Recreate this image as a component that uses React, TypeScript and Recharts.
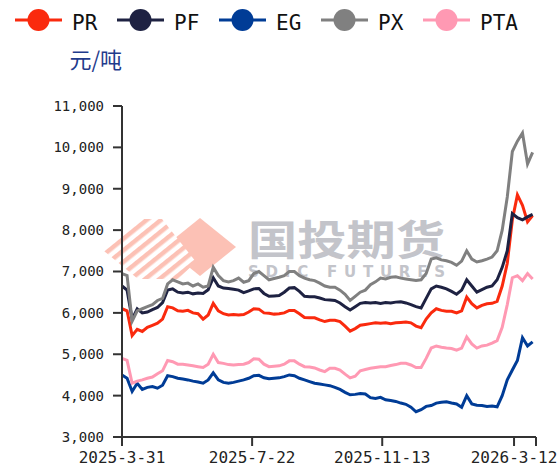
import React from 'react';
import { LineChart, Line, XAxis, YAxis } from 'recharts';

// one point every 3 trading days, from 2025-3-31
const PR = [
  6100, 6050, 5450, 5600, 5550, 5650, 5700, 5750, 5850, 6150,
  6120, 6050, 6040, 6060, 6000, 5980, 5850, 5950, 6230, 6050,
  5980, 5950, 5960, 5950, 5960, 6020, 6100, 6090, 6000, 5990,
  5970, 5980, 6000, 6060, 6060, 5980, 5890, 5880, 5880, 5830,
  5790, 5820, 5820, 5790, 5680, 5560, 5620, 5700, 5720, 5740,
  5760, 5750, 5760, 5740, 5760, 5770, 5780, 5760, 5680, 5640,
  5850, 6000, 6100, 6060, 6040, 6040, 6000, 6050, 6380, 6220,
  6120, 6180, 6220, 6230, 6280, 6650, 7200, 8250, 8850, 8600,
  8200, 8350,
];
const PF = [
  6650, 6550, 5850, 6100, 6000, 6020, 6080, 6130, 6250, 6550,
  6580, 6500, 6480, 6500, 6460, 6480, 6470, 6560, 6850, 6650,
  6600, 6590, 6570, 6550, 6490, 6530, 6580, 6590, 6470, 6400,
  6410, 6420, 6500, 6600, 6610, 6520, 6400, 6390, 6390, 6360,
  6320, 6310, 6300, 6240, 6150, 6070, 6150, 6230, 6250, 6240,
  6250, 6230, 6250, 6240, 6260, 6270, 6240, 6200, 6150, 6120,
  6350, 6580, 6650, 6620, 6580, 6520, 6450, 6550, 6800, 6650,
  6500, 6560, 6620, 6650, 6800, 7100, 7500, 8400, 8300, 8250,
  8320, 8380,
];
const EG = [
  4500, 4420, 4100, 4300, 4150, 4200, 4220, 4180, 4250, 4480,
  4460, 4420, 4400, 4380, 4350, 4330, 4300, 4380, 4550, 4380,
  4320, 4300, 4320, 4350, 4380, 4420, 4480, 4490, 4430, 4410,
  4420, 4430, 4460, 4500, 4480, 4420, 4380, 4340, 4300, 4280,
  4260, 4240, 4200, 4150, 4080, 4020, 4030, 4050, 4040, 3950,
  3930, 3960, 3900, 3880, 3860, 3820, 3790, 3720, 3610, 3660,
  3740, 3760, 3820, 3840, 3850, 3820, 3800, 3720, 4000, 3800,
  3770, 3760, 3740, 3750, 3730, 4000, 4380, 4620, 4850, 5400,
  5200, 5300,
];
const PX = [
  6950, 6900, 5800, 6050, 6100, 6150, 6200, 6300, 6350, 6700,
  6800, 6750, 6700, 6720, 6650, 6700, 6620, 6650, 7100, 6900,
  6780, 6750, 6780, 6840, 6740, 6780, 6950, 7000, 6900, 6800,
  6830, 6860, 6900, 7000, 7000, 6900, 6840, 6800, 6780, 6720,
  6650, 6620, 6620, 6550, 6450, 6300, 6400, 6500, 6550, 6680,
  6750, 6840, 6820, 6860, 6870, 6840, 6820, 6800, 6780, 6800,
  6950, 7300, 7330, 7280, 7260, 7220, 7150, 7250, 7500, 7300,
  7230, 7260, 7300, 7350, 7500, 8000, 8800, 9900, 10150, 10350,
  9600, 9880,
];
const PTA = [
  4900, 4850, 4300, 4350, 4380, 4420, 4450, 4530, 4600, 4850,
  4820, 4760, 4760, 4740, 4720, 4700, 4680, 4760, 5000, 4800,
  4780, 4750, 4740, 4750, 4760, 4800, 4890, 4880, 4760, 4700,
  4710, 4720, 4760, 4840, 4840, 4760, 4700, 4690, 4670, 4620,
  4580, 4660, 4660, 4620, 4520, 4430, 4470, 4600, 4630, 4660,
  4680, 4700, 4700, 4730, 4750, 4780, 4780, 4740, 4680, 4680,
  4900, 5150, 5200, 5170, 5150, 5140, 5100, 5150, 5420, 5250,
  5150, 5200, 5220, 5270, 5330, 5650, 6200, 6850, 6900, 6780,
  6950, 6820,
];

const xTicks = [0, 77, 154, 232, 245];
const xTickLabels = ['2025-3-31', '2025-7-22', '2025-11-13', '2026-3-12', ''];
const yTicks = [3000, 4000, 5000, 6000, 7000, 8000, 9000, 10000, 11000];

const seriesList = [
  { key: 'PR', color: '#fa2a0e' },
  { key: 'PF', color: '#1e2242' },
  { key: 'EG', color: '#003c96' },
  { key: 'PX', color: '#808080' },
  { key: 'PTA', color: '#ff99b3' },
];

const data = PR.map((v, i) => ({
  day: i * 3,
  PR: v,
  PF: PF[i],
  EG: EG[i],
  PX: PX[i],
  PTA: PTA[i],
}));

const mono = 'DejaVu Sans Mono, monospace';
const wmColor = '#c3c4ca';
const logoColor = '#fcc1b5';

// background layer: legend, unit label and the watermark
const Backdrop = () => (
  <svg width={559} height={474} style={{ position: 'absolute', left: 0, top: 0 }}>
    <defs>
      <pattern id="stripes" width="9" height="9" patternUnits="userSpaceOnUse" patternTransform="rotate(51)">
        <rect width="9" height="9" fill="#fff" />
        <rect width="4.5" height="9" fill={logoColor} />
      </pattern>
    </defs>
    {seriesList.map((s, i) => (
      <g key={s.key} transform={`translate(${15 + i * 102}, 0)`}>
        <line x1={0} y1={20} x2={47} y2={20} stroke={s.color} strokeWidth={3} />
        <circle cx={23.5} cy={20} r={11} fill={s.color} />
        <text x={57} y={29.5} fontSize={21} fontFamily={mono} fill="#111">
          {s.key}
        </text>
      </g>
    ))}
    <text x={122} y={68} fontSize={22} fontFamily="Noto Sans CJK SC" fill="#1f3b8c" textAnchor="end">
      元/吨
    </text>
    <polygon points="200,218 236,247 200,276 164,247" fill={logoColor} />
    <polygon points="104,251 141,219 162,219 196,262 178,279 138,279" fill="url(#stripes)" />
    {/* watermark: both lines in one text block */}
    <text fontWeight={700} fill={wmColor}>
      <tspan x={248} y={255} fontSize={41} fontFamily="Noto Sans CJK SC" textLength={197} lengthAdjust="spacingAndGlyphs">
        国投期货
      </tspan>
      <tspan x={248} y={277} fontSize={15} fontFamily="DejaVu Sans" textLength={197} lengthAdjust="spacing">
        SDIC FUTURES
      </tspan>
    </text>
  </svg>
);

export default function App() {
  return (
    <div style={{ position: 'absolute', left: 0, top: 0, width: 559, height: 474, background: '#fff' }}>
      <Backdrop />
      <div style={{ position: 'absolute', left: 0, top: 0 }}>
        <LineChart width={559} height={474} data={data} margin={{ top: 106, right: 23, bottom: 7, left: 62 }}>
          <XAxis
            type="number"
            dataKey="day"
            domain={[0, 245]}
            ticks={xTicks}
            interval={0}
            tickFormatter={(v: number) => xTickLabels[xTicks.indexOf(v)] ?? ''}
            height={30}
            tickSize={9}
            tickMargin={6}
            axisLine={{ stroke: '#333', strokeWidth: 2 }}
            tickLine={{ stroke: '#333', strokeWidth: 2 }}
            tick={{ fontSize: 16, fill: '#222', fontFamily: mono }}
          />
          <YAxis
            type="number"
            domain={[3000, 11000]}
            ticks={yTicks}
            interval={0}
            width={60}
            tickSize={9}
            tickMargin={9}
            tickFormatter={(v: number) => v.toLocaleString('en-US')}
            axisLine={{ stroke: '#333', strokeWidth: 2 }}
            tickLine={{ stroke: '#333', strokeWidth: 2 }}
            tick={{ fontSize: 14, fill: '#222', fontFamily: mono }}
          />
          {seriesList.map((s) => (
            <Line
              key={s.key}
              type="linear"
              dataKey={s.key}
              stroke={s.color}
              strokeWidth={3}
              dot={false}
              isAnimationActive={false}
            />
          ))}
        </LineChart>
      </div>
    </div>
  );
}
